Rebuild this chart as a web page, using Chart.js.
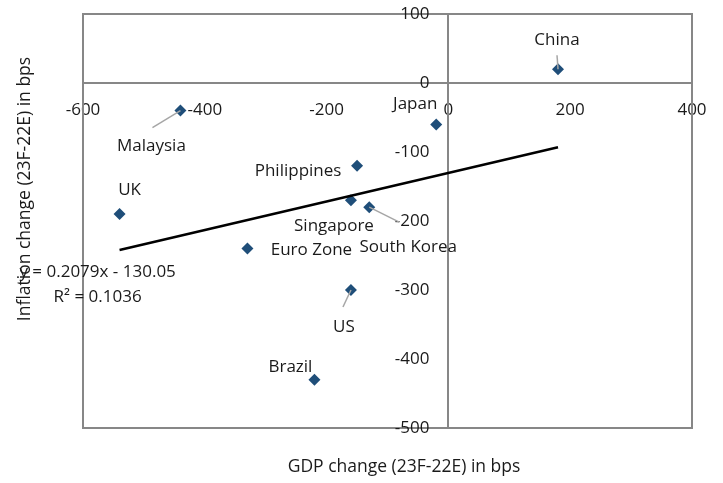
<!DOCTYPE html>
<html>
<head>
<meta charset="utf-8">
<script src="https://cdn.jsdelivr.net/npm/chart.js@4.4.0/dist/chart.umd.min.js"></script>
<style>
  html, body { margin: 0; padding: 0; background: #fff; }
  #wrap { width: 723px; height: 483px; }
</style>
</head>
<body>
<div id="wrap"><canvas id="chart" width="723" height="483"></canvas></div>
<script>
// data
const countries = ['China', 'Japan', 'Malaysia', 'Philippines', 'UK', 'Singapore', 'South Korea', 'Euro Zone', 'US', 'Brazil'];
const gdpChange = [180, -20, -440, -150, -540, -160, -130, -330, -160, -220];
const inflationChange = [20, -60, -40, -120, -190, -170, -180, -240, -300, -430];

const trendX = [-540, 180];
const trendY = [-242, -93];
const trendEquation = 'y = 0.2079x - 130.05';
const trendR2 = 'R² = 0.1036';

const xTicks = [-600, -400, -200, 0, 200, 400];
const yTicks = [100, 0, -100, -200, -300, -400, -500];

// label placement relative to each marker (pixels): label centre, optional leader end
const labelPlacement = {
    'China':       { dx: -1,  dy: -29, lx: -1,  ly: -14 },
    'Japan':       { dx: -21, dy: -20 },
    'Malaysia':    { dx: -29, dy: 36,  lx: -28, ly: 17 },
    'Philippines': { dx: -59, dy: 5 },
    'UK':          { dx: 10,  dy: -24 },
    'Singapore':   { dx: -17, dy: 26 },
    'South Korea': { dx: 39,  dy: 40,  lx: 30,  ly: 15 },
    'Euro Zone':   { dx: 64,  dy: 2 },
    'US':          { dx: -7,  dy: 37,  lx: -8,  ly: 17 },
    'Brazil':      { dx: -24, dy: -13 },
};

const FONT = '"Open Sans", "Noto Sans", sans-serif';
const TEXT = '#1a1a1a';
const AXIS = '#878787';

const points = countries.map((c, i) => ({ x: gdpChange[i], y: inflationChange[i], label: c }));
const trend = trendX.map((x, i) => ({ x, y: trendY[i] }));

const decorPlugin = {
    id: 'decor',
    beforeDatasetsDraw(chart) {
        const { ctx, chartArea: a, scales } = chart;
        ctx.save();
        ctx.strokeStyle = AXIS;
        ctx.lineWidth = 2;
        ctx.strokeRect(a.left, a.top, a.right - a.left, a.bottom - a.top);

        // y tick labels sit left of the x = 0 axis
        const axisX = scales.x.getPixelForValue(0);
        ctx.font = '17px ' + FONT;
        ctx.fillStyle = TEXT;
        ctx.textAlign = 'right';
        ctx.textBaseline = 'middle';
        yTicks.forEach(v => ctx.fillText(String(v), axisX - 19, scales.y.getPixelForValue(v)));
        ctx.restore();
    },
    afterDatasetsDraw(chart) {
        const { ctx } = chart;
        const meta = chart.getDatasetMeta(1);
        ctx.save();
        ctx.font = '17px ' + FONT;
        ctx.fillStyle = TEXT;
        ctx.textAlign = 'center';
        ctx.textBaseline = 'middle';
        meta.data.forEach((el, i) => {
            const p = labelPlacement[countries[i]];
            if (p.lx !== undefined) {
                ctx.strokeStyle = '#a6a6a6';
                ctx.lineWidth = 1.5;
                ctx.beginPath();
                ctx.moveTo(el.x, el.y);
                ctx.lineTo(el.x + p.lx, el.y + p.ly);
                ctx.stroke();
            }
            ctx.fillText(countries[i], el.x + p.dx, el.y + p.dy);
        });

        // trendline equation
        const ex = chart.scales.x.getPixelForValue(-576);
        const ey = chart.scales.y.getPixelForValue(-274);
        ctx.fillText(trendEquation, ex, ey);
        ctx.fillText(trendR2, ex, ey + 25);

        // axis titles
        ctx.font = '17.5px ' + FONT;
        ctx.fillText('GDP change (23F-22E) in bps', 404, 467);
        ctx.translate(25, 189);
        ctx.rotate(-Math.PI / 2);
        ctx.fillText('Inflation change (23F-22E) in bps', 0, 0);
        ctx.restore();
    }
};

new Chart(document.getElementById('chart'), {
    type: 'scatter',
    data: {
        datasets: [
            {
                type: 'line',
                label: 'Trend',
                data: trend,
                borderColor: '#000',
                borderWidth: 2.5,
                pointRadius: 0,
                fill: false,
            },
            {
                label: 'Countries',
                data: points,
                pointStyle: 'rectRot',
                pointRadius: 6,
                backgroundColor: '#1f4e79',
                borderColor: '#1f4e79',
                borderWidth: 0,
            }
        ]
    },
    options: {
        responsive: false,
        animation: false,
        layout: { padding: { left: 83, top: 14, right: 31, bottom: 55 } },
        plugins: {
            legend: { display: false },
            tooltip: { enabled: false },
        },
        scales: {
            x: {
                type: 'linear',
                position: { y: 0 },
                min: xTicks[0],
                max: xTicks[xTicks.length - 1],
                afterBuildTicks: (s) => { s.ticks = xTicks.map(v => ({ value: v })); },
                grid: { display: false },
                border: { display: true, color: AXIS, width: 2 },
                ticks: { color: TEXT, font: { family: FONT, size: 17 }, padding: 9, maxRotation: 0 },
            },
            y: {
                type: 'linear',
                position: { x: 0 },
                min: yTicks[yTicks.length - 1],
                max: yTicks[0],
                afterBuildTicks: (s) => { s.ticks = yTicks.map(v => ({ value: v })); },
                afterFit: (s) => { s.paddingTop = 0; s.paddingBottom = 0; },
                grid: { display: false },
                border: { display: true, color: AXIS, width: 2 },
                ticks: { display: false },
            }
        }
    },
    plugins: [decorPlugin]
});
</script>
</body>
</html>
